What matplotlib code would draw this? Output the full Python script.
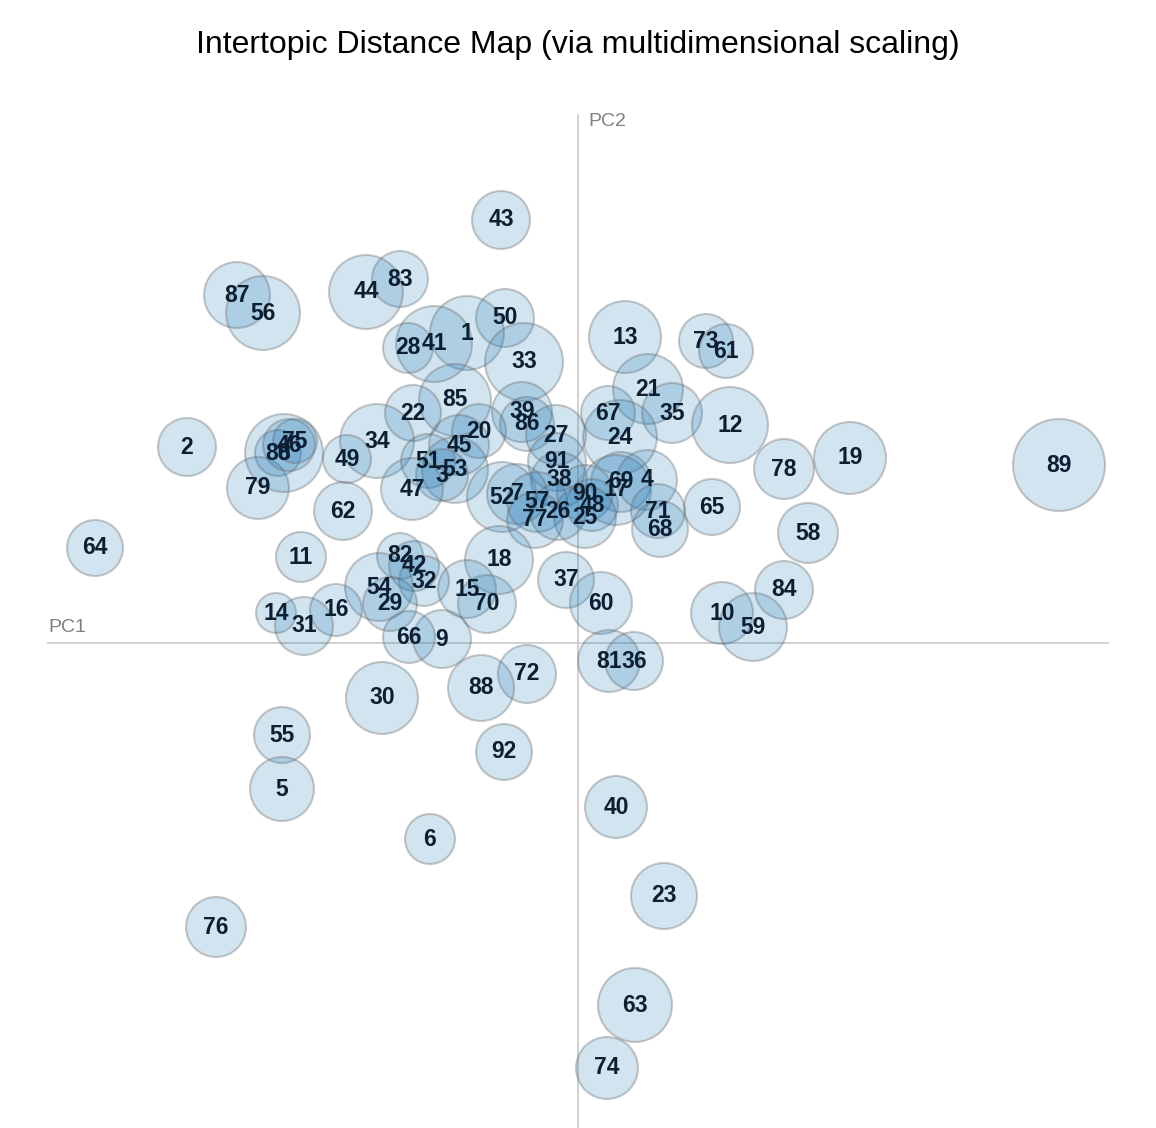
import numpy as np
import matplotlib.pyplot as plt
from matplotlib.patches import Circle

plt.rcParams['font.family'] = ['Liberation Sans', 'DejaVu Sans']

# topic id, PC1, PC2 coordinates and circle size
topics = ['43', '83', '44', '87', '56', '50', '1', '41', '28', '33',
          '13', '73', '61', '21', '35', '12', '2', '85', '22', '39',
          '86', '67', '24', '20', '27', '34', '45', '49', '19', '89',
          '78', '91', '51', '53', '3', '79', '47', '38', '69', '17',
          '4', '52', '7', '57', '90', '48', '26', '25', '77', '71',
          '68', '65', '62', '58', '64', '11', '82', '42', '32', '18',
          '37', '54', '15', '84', '29', '70', '60', '10', '59', '14',
          '16', '31', '66', '9', '81', '36', '72', '30', '88', '55',
          '92', '5', '40', '6', '23', '76', '63', '74', '80', '8',
          '46', '75']
pc1 = [-77, -178, -212, -341, -315, -73, -111, -144, -170, -54,
       47, 128, 148, 70, 94, 152, -391, -123, -165, -56,
       -51, 30, 42, -99, -22, -201, -119, -231, 272, 481,
       206, -21, -150, -123, -136, -320, -166, -19, 43, 38,
       69, -76, -61, -41, 7, 14, -20, 7, -43, 80,
       82, 134, -235, 230, -483, -277, -178, -164, -154, -79,
       -12, -199, -111, 206, -188, -91, 23, 144, 175, -302,
       -242, -274, -169, -136, 31, 56, -51, -196, -97, -296,
       -74, -296, 38, -148, 86, -362, 57, 29, -300, -294,
       -289, -283]
pc2 = [423, 364, 351, 348, 330, 325, 310, 299, 295, 281,
       306, 302, 292, 254, 230, 218, 196, 243, 230, 231,
       219, 230, 206, 212, 208, 202, 198, 184, 185, 178,
       174, 181, 182, 173, 168, 155, 154, 163, 161, 153,
       163, 146, 149, 141, 150, 138, 131, 126, 123, 132,
       114, 136, 132, 110, 95, 86, 87, 77, 62, 83,
       63, 56, 54, 53, 39, 39, 40, 30, 16, 30,
       33, 17, 6, 4, -18, -18, -31, -55, -45, -92,
       -109, -146, -164, -196, -253, -284, -362, -425, 190, 190,
       198, 202]
sizes = [29, 28, 37, 33, 37, 29, 37, 38, 25, 39,
         36, 27, 27, 35, 30, 38, 29, 36, 28, 30,
         27, 27, 37, 27, 30, 37, 30, 24, 36, 46,
         30, 29, 27, 33, 26, 31, 31, 28, 30, 35,
         30, 35, 30, 30, 28, 26, 28, 31, 28, 27,
         28, 28, 29, 30, 28, 25, 23, 25, 25, 34,
         28, 34, 29, 29, 27, 29, 31, 31, 34, 20,
         26, 29, 26, 29, 31, 29, 29, 36, 33, 28,
         28, 32, 31, 25, 33, 30, 37, 31, 23, 39,
         26, 22]

fig = plt.figure(figsize=(11.56, 11.28), dpi=100)
ax = fig.add_axes([0, 0, 1, 1])
ax.set_xlim(-578, 578)
ax.set_ylim(-485, 643)
ax.set_aspect('equal')
ax.axis('off')

# axis lines
ax.plot([-530, 530], [0, 0], color='#c8c8c8', lw=1.2, zorder=0)
ax.plot([0, 0], [528, -485], color='#c8c8c8', lw=1.2, zorder=0)
ax.text(-530, 7, 'PC1', color='#808080', fontsize=14, ha='left', va='bottom')
ax.text(10, 522, 'PC2', color='#808080', fontsize=14, ha='left', va='center')

for t, x, y, r in zip(topics, pc1, pc2, sizes):
    c = Circle((x, y), r, facecolor=(0.12, 0.47, 0.71, 0.2),
               edgecolor=(0.4, 0.4, 0.4, 0.35), lw=1.5, zorder=1)
    ax.add_patch(c)

for t, x, y in zip(topics, pc1, pc2):
    ax.text(x, y, t, ha='center', va='center', fontsize=16.5, fontweight='bold',
            color='#0b1e32', zorder=3)

fig.text(0.5, 1 - 45 / 1128, 'Intertopic Distance Map (via multidimensional scaling)',
         ha='center', va='center', fontsize=23, color='black')

fig.savefig('out.png', dpi=100)
